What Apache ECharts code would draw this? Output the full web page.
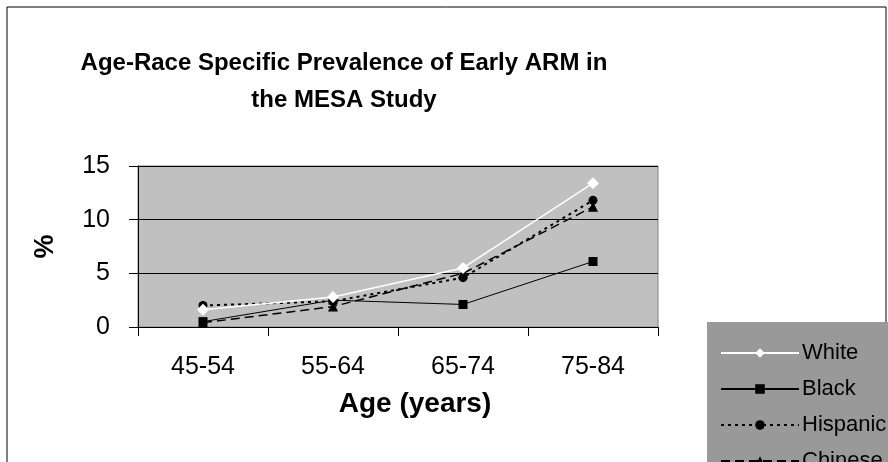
<!DOCTYPE html>
<html>
<head>
<meta charset="utf-8">
<script src="https://cdn.jsdelivr.net/npm/echarts@6/dist/echarts.min.js"></script>
<style>
html,body{margin:0;padding:0;background:#fff;}
#c{width:888px;height:462px;}
</style>
</head>
<body>
<div id="c"></div>
<script>
var categories = ['45-54', '55-64', '65-74', '75-84'];
var white = [1.6, 2.8, 5.5, 13.4];
var black = [0.5, 2.5, 2.1, 6.1];
var hispanic = [2.0, 2.4, 4.6, 11.8];
var chinese = [0.4, 1.9, 5.0, 11.2];
var yTicks = [0, 5, 10, 15];

var FONT = 'Liberation Sans, Arial, sans-serif';
var chart = echarts.init(document.getElementById('c'));
chart.setOption({
  animation: false,
  backgroundColor: '#fff',
  graphic: [
    {type: 'rect', shape: {x: 7, y: 7, width: 879, height: 470}, style: {fill: 'none', stroke: '#000', lineWidth: 1}, z: -1}
  ],
  title: {
    text: 'Age-Race Specific Prevalence of Early ARM in\nthe MESA Study',
    left: 339, top: 40, textAlign: 'center',
    textStyle: {fontFamily: FONT, fontSize: 24, fontWeight: 'bold', color: '#000', lineHeight: 37}
  },
  legend: {
    orient: 'vertical',
    left: 707, top: 322,
    width: 181, height: 200,
    backgroundColor: '#999999',
    borderWidth: 0,
    padding: [20, 20, 40, 13],
    itemGap: 14,
    itemWidth: 78, itemHeight: 12,
    textStyle: {fontFamily: FONT, fontSize: 22, color: '#000', padding: [0, 0, 0, -2]},
    data: ['White', 'Black', 'Hispanic', 'Chinese']
  },
  grid: {left: 138, right: 230, top: 166, bottom: 135, show: true, backgroundColor: '#c0c0c0', borderColor: '#808080', borderWidth: 1},
  xAxis: {
    type: 'category', data: categories, boundaryGap: true,
    name: 'Age (years)', nameLocation: 'middle', nameGap: 63,
    nameTextStyle: {fontFamily: FONT, fontSize: 28, fontWeight: 'bold', color: '#000', padding: [0, 0, 0, 34]},
    axisLine: {lineStyle: {color: '#000', width: 1}},
    axisTick: {show: true, length: 9, lineStyle: {color: '#000'}},
    axisLabel: {fontFamily: FONT, fontSize: 25, color: '#000', margin: 28}
  },
  yAxis: {
    type: 'value', min: 0, max: 15, interval: 5,
    name: '%', nameLocation: 'middle', nameGap: 79, nameRotate: 90,
    nameTextStyle: {fontFamily: FONT, fontSize: 27, fontWeight: 'bold', color: '#000'},
    axisLine: {show: true, lineStyle: {color: '#000', width: 1}},
    axisTick: {show: true, length: 9, lineStyle: {color: '#000'}},
    axisLabel: {fontFamily: FONT, fontSize: 25, color: '#000', margin: 28,
      formatter: function (v) { return yTicks.indexOf(v) >= 0 ? String(v) : ''; }},
    splitLine: {show: true, lineStyle: {color: '#000', width: 1}}
  },
  series: [
    {name: 'White', type: 'line', data: white, symbol: 'diamond', symbolSize: 12,
      lineStyle: {color: '#fff', width: 1.5, type: 'solid'}, itemStyle: {color: '#fff'}, z: 5},
    {name: 'Black', type: 'line', data: black, symbol: 'rect', symbolSize: 9,
      lineStyle: {color: '#000', width: 1, type: 'solid'}, itemStyle: {color: '#000'}, z: 4},
    {name: 'Hispanic', type: 'line', data: hispanic, symbol: 'circle', symbolSize: 9,
      lineStyle: {color: '#000', width: 2, type: [3, 4]}, itemStyle: {color: '#000'}, z: 3},
    {name: 'Chinese', type: 'line', data: chinese, symbol: 'triangle', symbolSize: 10,
      lineStyle: {color: '#000', width: 1.5, type: [9, 5]}, itemStyle: {color: '#000'}, z: 2}
  ]
});
</script>
</body>
</html>
